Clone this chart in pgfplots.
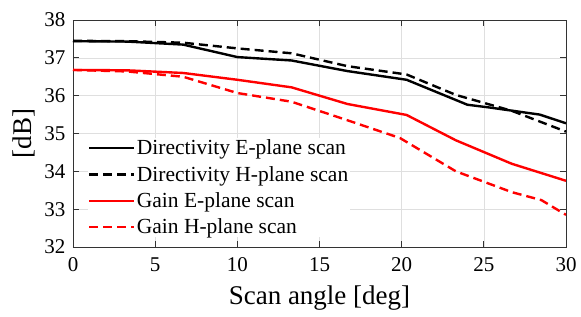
\documentclass[border=0pt]{standalone}
\usepackage{fontspec}
\setmainfont{Liberation Serif}
\usepackage{pgfplots}
\pgfplotsset{compat=1.18}
\begin{document}
\begin{tikzpicture}
\begin{axis}[
  scale only axis,
  width=493pt, height=227pt,
  xmin=0, xmax=30, ymin=32, ymax=38,
  xtick={0,5,...,30}, ytick={32,33,...,38},
  tick align=inside,
  major tick length=6pt,
  grid=major,
  grid style={gray!25, line width=0.6pt},
  axis line style={black!80, line width=0.8pt},
  every tick/.style={black!80, line width=0.8pt},
  /pgf/number format/assume math mode=true,
  tick label style={font=\fontsize{21}{24}\selectfont},
  xticklabel style={yshift=-7pt},
  yticklabel style={xshift=-4pt},
  xlabel={Scan angle [deg]},
  ylabel={[dB]},
  label style={font=\fontsize{27}{30}\selectfont},
  xlabel style={yshift=-7pt},
  ylabel style={yshift=2pt},
  legend cell align=left,
  legend style={at={(axis cs:0.9,34.88)}, anchor=north west, draw=none, fill=white,
    font=\fontsize{21.5}{23}\selectfont, inner sep=0pt, row sep=7pt,
    nodes={inner sep=1.5pt}},
  legend image code/.code={\draw[#1] (0pt,0pt) -- (45pt,0pt);},
]
\addplot[black, line width=2.4pt] coordinates {(0,37.44)(3.3,37.43)(6.7,37.35)(10,37.02)(13.3,36.93)(16.7,36.65)(20.3,36.42)(24,35.76)(25.3,35.69)(28.4,35.5)(30,35.27)};
\addlegendentry{Directivity E-plane scan}
\addplot[black, line width=2.4pt, dash pattern=on 9pt off 5pt] coordinates {(0,37.45)(3.3,37.44)(6.7,37.4)(10,37.25)(13.3,37.12)(16.7,36.78)(20.3,36.56)(23.3,36.02)(26.7,35.6)(30,35.05)};
\addlegendentry{Directivity H-plane scan}
\addplot[red, line width=2.4pt] coordinates {(0,36.68)(3.3,36.67)(6.7,36.6)(10,36.42)(13.3,36.22)(16.7,35.78)(20.3,35.49)(23.3,34.82)(26.7,34.2)(30,33.75)};
\addlegendentry{Gain E-plane scan}
\addplot[red, line width=2.4pt, dash pattern=on 9pt off 5pt] coordinates {(0,36.68)(3.3,36.64)(6.7,36.5)(10,36.07)(13.3,35.84)(16.7,35.35)(19.9,34.88)(23.3,34.0)(26.7,33.45)(28.5,33.24)(30,32.85)};
\addlegendentry{Gain H-plane scan}
\end{axis}
\pgfresetboundingbox
\path (current axis.south west) ++(-73pt,-69pt) rectangle ++(581pt,316pt);
\end{tikzpicture}
\end{document}
